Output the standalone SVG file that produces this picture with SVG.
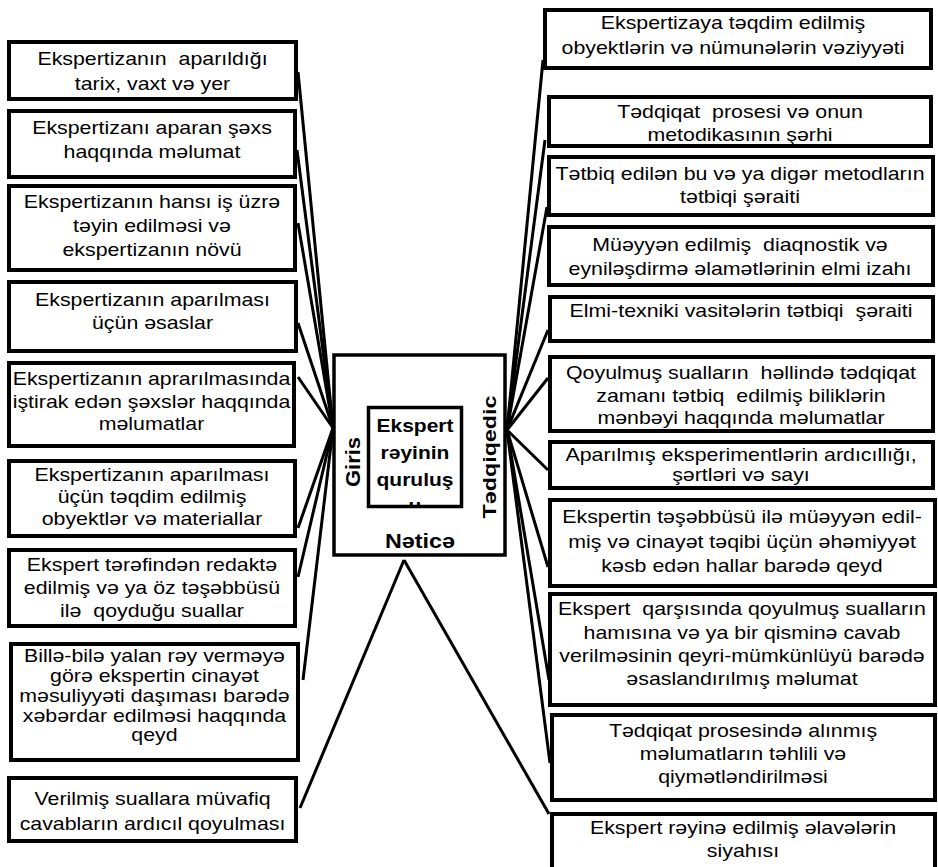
<svg xmlns="http://www.w3.org/2000/svg" width="938" height="867" viewBox="0 0 938 867">
<defs>
<style>
.b{fill:#fff;stroke:#000;stroke-width:4}
.c{fill:#fff;stroke:#000;stroke-width:3.5}
.t text{font-family:"Liberation Sans",Arial,sans-serif;font-size:17.5px;text-anchor:middle;white-space:pre;fill:#000}
.h{font-family:"Liberation Sans",Arial,sans-serif;font-weight:bold;text-anchor:middle;fill:#000}
.ln line{stroke:#000;stroke-width:3;fill:none}
</style>
<clipPath id="inner"><rect x="370" y="409" width="91" height="97"/></clipPath>
</defs>
<rect width="938" height="867" fill="#fff"/>

<g id="connectors" class="ln">
<line x1="298" y1="72" x2="333" y2="428"/>
<line x1="297" y1="150" x2="333" y2="428"/>
<line x1="298" y1="223" x2="333" y2="428"/>
<line x1="298" y1="323" x2="333" y2="428"/>
<line x1="298" y1="377" x2="333" y2="428"/>
<line x1="298" y1="528" x2="333" y2="428"/>
<line x1="298" y1="577" x2="333" y2="428"/>
<line x1="303" y1="680" x2="333" y2="428"/>
<line x1="543" y1="60" x2="507" y2="430"/>
<line x1="545" y1="140" x2="507" y2="430"/>
<line x1="547" y1="207" x2="507" y2="430"/>
<line x1="548" y1="330" x2="507" y2="430"/>
<line x1="548" y1="378" x2="507" y2="430"/>
<line x1="548" y1="470" x2="507" y2="430"/>
<line x1="548" y1="567" x2="507" y2="430"/>
<line x1="549" y1="680" x2="507" y2="430"/>
<line x1="550" y1="763" x2="507" y2="430"/>
<line x1="404" y1="560" x2="300" y2="808"/>
<line x1="404" y1="560" x2="549" y2="814"/>
</g>

<g id="L1"><rect class="b" x="9" y="42" width="287" height="57"/><g class="t" transform="translate(152.5 0) scale(1.22 1)"><text y="65">Ekspertizanın  aparıldığı</text><text y="90">tarix, vaxt və yer</text></g></g>
<g id="L2"><rect class="b" x="9" y="111" width="286" height="66"/><g class="t" transform="translate(152 0) scale(1.22 1)"><text y="134">Ekspertizanı aparan şəxs</text><text y="158">haqqında məlumat</text></g></g>
<g id="L3"><rect class="b" x="9" y="186" width="286" height="84"/><g class="t" transform="translate(152 0) scale(1.22 1)"><text y="208">Ekspertizanın hansı iş üzrə</text><text y="232">təyin edilməsi və</text><text y="256">ekspertizanın növü</text></g></g>
<g id="L4"><rect class="b" x="9" y="282" width="287" height="69"/><g class="t" transform="translate(152.5 0) scale(1.22 1)"><text y="306">Ekspertizanın aparılması</text><text y="329">üçün əsaslar</text></g></g>
<g id="L5"><rect class="b" x="9" y="363" width="285" height="83"/><g class="t" transform="translate(151.5 0) scale(1.22 1)"><text y="385">Ekspertizanın aprarılmasında</text><text y="408">iştirak edən şəxslər haqqında</text><text y="430">məlumatlar</text></g></g>
<g id="L6"><rect class="b" x="9" y="461" width="286" height="75"/><g class="t" transform="translate(152 0) scale(1.22 1)"><text y="481">Ekspertizanın aparılması</text><text y="503">üçün təqdim edilmiş</text><text y="525">obyektlər və materiallar</text></g></g>
<g id="L7"><rect class="b" x="9" y="550" width="286" height="76"/><g class="t" transform="translate(152 0) scale(1.22 1)"><text y="571">Ekspert tərəfindən redaktə</text><text y="594">edilmiş və ya öz təşəbbüsü</text><text y="617">ilə  qoyduğu suallar</text></g></g>
<g id="L8"><rect class="b" x="11" y="644" width="287" height="116"/><g class="t" transform="translate(154.5 0) scale(1.22 1)"><text y="662">Billə-bilə yalan rəy verməyə</text><text y="682">görə ekspertin cinayət</text><text y="702">məsuliyyəti daşıması barədə</text><text y="722">xəbərdar edilməsi haqqında</text><text y="741">qeyd</text></g></g>
<g id="L9"><rect class="b" x="9" y="778" width="287" height="63"/><g class="t" transform="translate(152.5 0) scale(1.22 1)"><text y="805">Verilmiş suallara müvafiq</text><text y="830">cavabların ardıcıl qoyulması</text></g></g>

<g id="R1"><rect class="b" x="545" y="10" width="386" height="58"/><g class="t" transform="translate(733 0) scale(1.22 1)"><text y="29">Ekspertizaya təqdim edilmiş</text><text y="54">obyektlərin və nümunələrin vəziyyəti</text></g></g>
<g id="R2"><rect class="b" x="549" y="97" width="382" height="49"/><g class="t" transform="translate(740 0) scale(1.22 1)"><text y="118">Tədqiqat  prosesi və onun</text><text y="141">metodikasının şərhi</text></g></g>
<g id="R3"><rect class="b" x="549" y="157" width="384" height="58"/><g class="t" transform="translate(740 0) scale(1.22 1)"><text y="180">Tətbiq edilən bu və ya digər metodların</text><text y="203">tətbiqi şəraiti</text></g></g>
<g id="R4"><rect class="b" x="549" y="227" width="384" height="58"/><g class="t" transform="translate(740 0) scale(1.22 1)"><text y="251">Müəyyən edilmiş  diaqnostik və</text><text y="275">eyniləşdirmə əlamətlərinin elmi izahı</text></g></g>
<g id="R5"><rect class="b" x="550" y="297" width="383" height="44"/><g class="t" transform="translate(741 0) scale(1.22 1)"><text y="317">Elmi-texniki vasitələrin tətbiqi  şəraiti</text></g></g>
<g id="R6"><rect class="b" x="550" y="357" width="383" height="74"/><g class="t" transform="translate(741 0) scale(1.22 1)"><text y="379">Qoyulmuş sualların  həllində tədqiqat</text><text y="402">zamanı tətbiq  edilmiş biliklərin</text><text y="424">mənbəyi haqqında məlumatlar</text></g></g>
<g id="R7"><rect class="b" x="550" y="442" width="383" height="46"/><g class="t" transform="translate(741 0) scale(1.22 1)"><text y="461">Aparılmış eksperimentlərin ardıcıllığı,</text><text y="481">şərtləri və sayı</text></g></g>
<g id="R8"><rect class="b" x="550" y="500" width="385" height="86"/><g class="t" transform="translate(742 0) scale(1.22 1)"><text y="523">Ekspertin təşəbbüsü ilə müəyyən edil-</text><text y="548">miş və cinayət təqibi üçün əhəmiyyət</text><text y="572">kəsb edən hallar barədə qeyd</text></g></g>
<g id="R9"><rect class="b" x="550" y="594" width="385" height="111"/><g class="t" transform="translate(742 0) scale(1.22 1)"><text y="615">Ekspert  qarşısında qoyulmuş sualların</text><text y="639">hamısına və ya bir qisminə cavab</text><text y="662">verilməsinin qeyri-mümkünlüyü barədə</text><text y="685">əsaslandırılmış məlumat</text></g></g>
<g id="R10"><rect class="b" x="552" y="715" width="383" height="85"/><g class="t" transform="translate(743 0) scale(1.22 1)"><text y="737">Tədqiqat prosesində alınmış</text><text y="760">məlumatların təhlili və</text><text y="783">qiymətləndirilməsi</text></g></g>
<g id="R11"><rect class="b" x="552" y="814" width="383" height="60"/><g class="t" transform="translate(743 0) scale(1.22 1)"><text y="834">Ekspert rəyinə edilmiş əlavələrin</text><text y="857">siyahısı</text></g></g>

<g id="center">
<rect class="c" x="334" y="355" width="171" height="200"/>
<rect class="c" x="368.5" y="407.5" width="93" height="99"/>
<g transform="translate(415 0) scale(1.2 1)">
<text class="h" font-size="17.5" y="432">Ekspert</text>
<text class="h" font-size="17.5" y="459">rəyinin</text>
<text class="h" font-size="17.5" y="486">quruluş</text>
</g>
<g clip-path="url(#inner)"><g transform="translate(415 0) scale(1.2 1)"><text class="h" font-size="17.5" y="512">u</text></g></g>
<text class="h" font-size="21" textLength="50" lengthAdjust="spacingAndGlyphs" transform="translate(360 462) rotate(-90)">Giris</text>
<text class="h" font-size="19" textLength="123" lengthAdjust="spacingAndGlyphs" transform="translate(496 457) rotate(-90)">Tədqiqedic</text>
<text class="h" font-size="20" textLength="70" lengthAdjust="spacingAndGlyphs" x="420" y="548">Nəticə</text>
</g>
</svg>
